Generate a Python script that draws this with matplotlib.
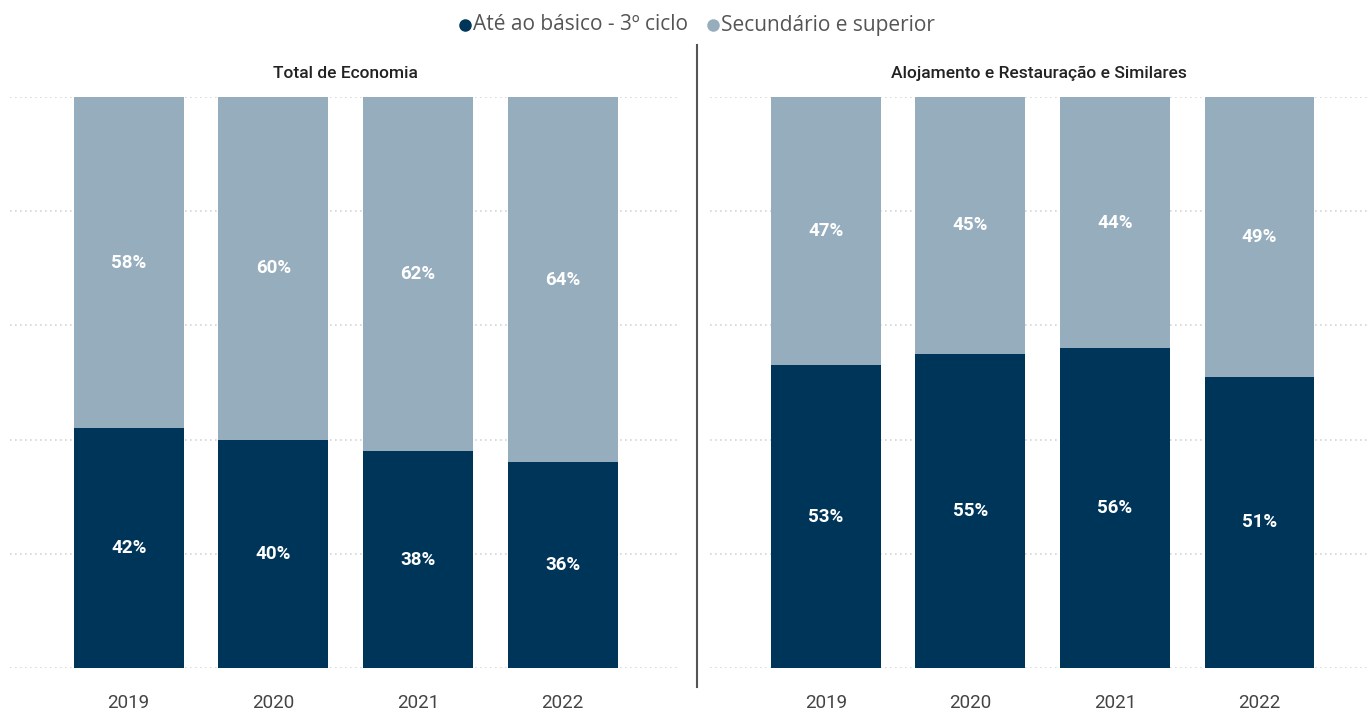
import matplotlib.pyplot as plt
from matplotlib.lines import Line2D

anos = ['2019', '2020', '2021', '2022']
total_basico = [42, 40, 38, 36]
total_secundario = [58, 60, 62, 64]
aloj_basico = [53, 55, 56, 51]
aloj_secundario = [47, 45, 44, 49]

escuro = '#00355A'
claro = '#95ADBD'

plt.rcParams['font.family'] = ['Roboto', 'DejaVu Sans']

fig = plt.figure(figsize=(13.68, 7.13), dpi=100)
ax1 = fig.add_axes([10/1368, 45/713, 670/1368, 571/713])
ax2 = fig.add_axes([710/1368, 45/713, 658/1368, 571/713])


def painel(ax, basico, secundario, titulo, xlim):
    x = range(len(anos))
    ax.bar(x, basico, width=0.76, color=escuro, zorder=2)
    ax.bar(x, secundario, width=0.76, bottom=basico, color=claro, zorder=2)
    for i in x:
        ax.text(i, basico[i] / 2, f'{basico[i]}%', ha='center', va='center',
                color='white', fontsize=13.5, fontweight='bold')
        ax.text(i, basico[i] + secundario[i] / 2, f'{secundario[i]}%', ha='center',
                va='center', color='white', fontsize=13.5, fontweight='bold')
    ax.set_xlim(*xlim)
    ax.set_ylim(0, 100)
    ax.set_yticks([0, 20, 40, 60, 80, 100])
    ax.set_yticklabels([])
    ax.tick_params(length=0)
    ax.set_xticks(list(x))
    ax.set_xticklabels(anos, fontsize=13.5, color='#444444')
    ax.tick_params(axis='x', pad=19)
    ax.grid(axis='y', color='#D5D5D5', linestyle=(0, (1, 2)), linewidth=1.2, zorder=0)
    for s in ax.spines.values():
        s.set_visible(False)
    ax.set_title(titulo, fontsize=12.5, color='#222222', pad=14, fontweight='medium')


painel(ax1, total_basico, total_secundario, 'Total de Economia', (-0.82, 3.81))
painel(ax2, aloj_basico, aloj_secundario, 'Alojamento e Restauração e Similares', (-0.80, 3.75))

# divisor
fig.add_artist(Line2D([697/1368, 697/1368], [1 - 687/713, 1 - 45/713],
                      color='#555555', linewidth=1.5))

# legenda
y_leg = 1 - 25/713
fig.add_artist(Line2D([465/1368], [y_leg], marker='o', markersize=8, color=escuro,
                      linestyle='none'))
fig.text(473/1368, y_leg, 'Até ao básico - 3º ciclo', color='#555555', fontsize=15,
         ha='left', va='center', family=['Open Sans', 'DejaVu Sans'])
fig.add_artist(Line2D([713/1368], [y_leg], marker='o', markersize=8, color=claro,
                      linestyle='none'))
fig.text(721/1368, y_leg, 'Secundário e superior', color='#555555', fontsize=15,
         ha='left', va='center', family=['Open Sans', 'DejaVu Sans'])

fig.savefig('out.png', dpi=100)
